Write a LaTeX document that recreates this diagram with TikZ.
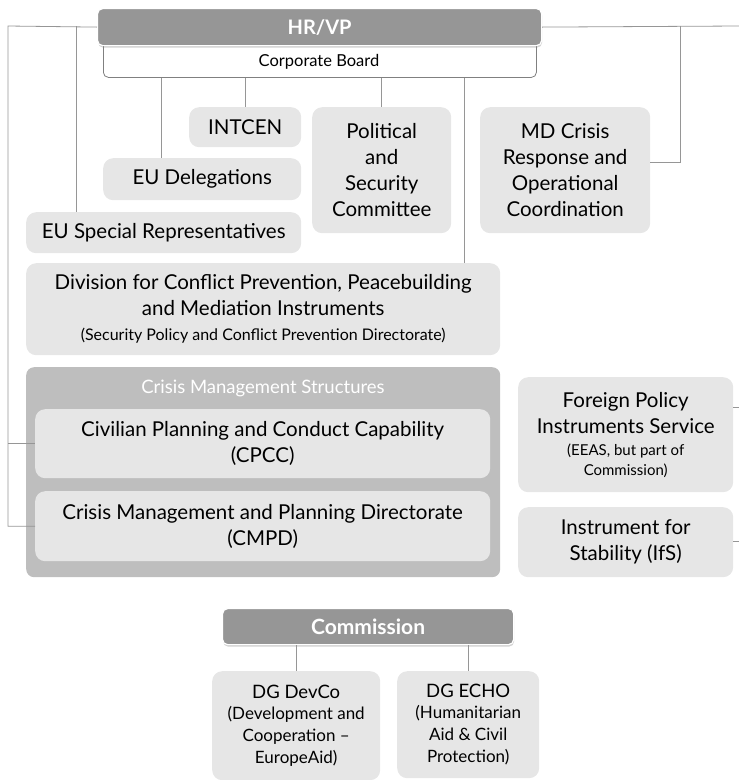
\documentclass[tikz,border=0pt]{standalone}
\usepackage{fontspec}
\setmainfont{Lato}
\usetikzlibrary{shadows}

\definecolor{headgray}{RGB}{150,150,150}
\definecolor{framegray}{RGB}{190,190,190}
\definecolor{unitgray}{RGB}{230,230,230}
\definecolor{linegray}{RGB}{150,150,150}
\newcommand{\bigfont}{\fontsize{20.5}{26}\selectfont}
\newcommand{\smallfont}{\fontsize{15}{20}\selectfont}

\tikzset{
    wh/.style 2 args={minimum width=#1pt, minimum height=#2pt},
    unit/.style={fill=unitgray, rounded corners=10pt, anchor=north west, inner sep=0pt, align=center, font=\bigfont},
    head/.style={fill=headgray, draw=white, line width=1.2pt, rounded corners=5pt, anchor=north west, inner sep=0pt,
        text=white, font=\bfseries\fontsize{20}{22}\selectfont,
        drop shadow={opacity=0.35, shadow xshift=0.5pt, shadow yshift=-2pt}},
    link/.style={draw=linegray, line width=0.8pt},
}

\begin{document}
\begin{tikzpicture}[x=1pt, y=-1pt]
    \useasboundingbox (0,0) rectangle (739,780);

    \begin{scope} % Top of the service
        \node[draw=gray, line width=0.8pt, fill=white, rounded corners=5pt, anchor=north west, wh={433}{47}] (corp) at (103,30) {};
        \node[font=\fontsize{16.5}{20}\selectfont] (corptext) at (319,62) {Corporate Board};
        \node[head, wh={444}{37}] (hrvp) at (97,8) {HR/VP};
    \end{scope}

    \begin{scope} % Units below the board
        \node[unit, wh={112}{40}] (intcen) at (189,107) {INTCEN};
        \node[unit, wh={198}{42}] (edel) at (103,158) {EU Delegations};
        \node[unit, wh={275}{41}] (esr) at (26,212) {EU Special Representatives};
        \node[unit, wh={139}{126}] (psc) at (312,107) {Political\\and\\Security\\Committee};
        \node[unit, wh={170}{126}] (mdcrisis) at (480,107) {MD Crisis\\Response and\\Operational\\Coordination};
        \node[unit, wh={474}{92}] (division) at (26,263)
            {Division for Conflict Prevention, Peacebuilding\\and Mediation Instruments\\[-1pt]{\fontsize{16}{20}\selectfont (Security Policy and Conflict Prevention Directorate)}};
    \end{scope}

    \begin{scope} % Crisis management structures
        \node[fill=framegray, rounded corners=8pt, anchor=north west, wh={474}{210}] (cms) at (26,367) {};
        \node[text=white, font=\fontsize{18.5}{22}\selectfont] (cmstitle) at (263,388) {Crisis Management Structures};
        \node[unit, wh={455}{69}] (cpcc) at (35,409) {Civilian Planning and Conduct Capability\\(CPCC)};
        \node[unit, wh={455}{70}] (cmpd) at (35,491) {Crisis Management and Planning Directorate\\(CMPD)};
    \end{scope}

    \begin{scope} % Instruments on the right
        \node[unit, wh={215}{115}] (fpis) at (518,377)
            {Foreign Policy\\Instruments Service\\[-4pt]{\smallfont (EEAS, but part of}\\[-6pt]{\smallfont Commission)}};
        \node[unit, wh={215}{70}] (ifs) at (518,507) {Instrument for\\Stability (IfS)};
    \end{scope}

    \begin{scope} % Commission
        \node[head, font=\bfseries\fontsize{21}{22}\selectfont, wh={291}{36}] (comm) at (222,608) {Commission};
        \node[unit, font=\fontsize{18.5}{24}\selectfont, wh={168}{109}] (devco) at (212,671)
            {DG DevCo\\[-3pt]{\fontsize{17}{22}\selectfont (Development and}\\[-2pt]{\fontsize{17}{22}\selectfont Cooperation --}\\[-2pt]{\fontsize{17}{22}\selectfont EuropeAid)}};
        \node[unit, font=\fontsize{18.5}{24}\selectfont, wh={142}{107}] (echo) at (397,671)
            {DG ECHO\\[-3pt]{\fontsize{17}{22}\selectfont (Humanitarian}\\[-2pt]{\fontsize{17}{22}\selectfont Aid \& Civil}\\[-2pt]{\fontsize{17}{22}\selectfont Protection)}};
    \end{scope}

    % taps and free ends
    \coordinate (lspine) at (8,26);
    \coordinate (esrtap) at (76,26);
    \coordinate (rspine) at (680,26);
    \coordinate (redge) at (739,26);
    \coordinate (edeltap) at (161,0);
    \coordinate (divtap) at (464,0);
    \coordinate (fpisend) at (739,407);
    \coordinate (ifsend) at (739,541);

    \begin{scope}[link] % Draw connectors
        \draw (hrvp.west) -- (lspine) |- (cmpd.west);
        \draw (lspine |- cpcc.west) -- (cpcc.west);
        \draw (esrtap) -- (esrtap |- esr.north);
        \draw (hrvp.east) -- (redge);
        \draw (rspine) |- ([yshift=8pt]mdcrisis.east);
        \draw (corp.south -| edeltap) -- (edeltap |- edel.north);
        \draw (corp.south -| intcen.north) -- (intcen.north);
        \draw (corp.south -| psc.north) -- (psc.north);
        \draw (corp.south -| divtap) -- (divtap |- division.north);
        \draw (fpis.east |- fpisend) -- (fpisend);
        \draw (ifs.east |- ifsend) -- (ifsend);
        \draw (comm.south -| devco.north) -- (devco.north);
        \draw (comm.south -| echo.north) -- (echo.north);
    \end{scope}
\end{tikzpicture}
\end{document}
